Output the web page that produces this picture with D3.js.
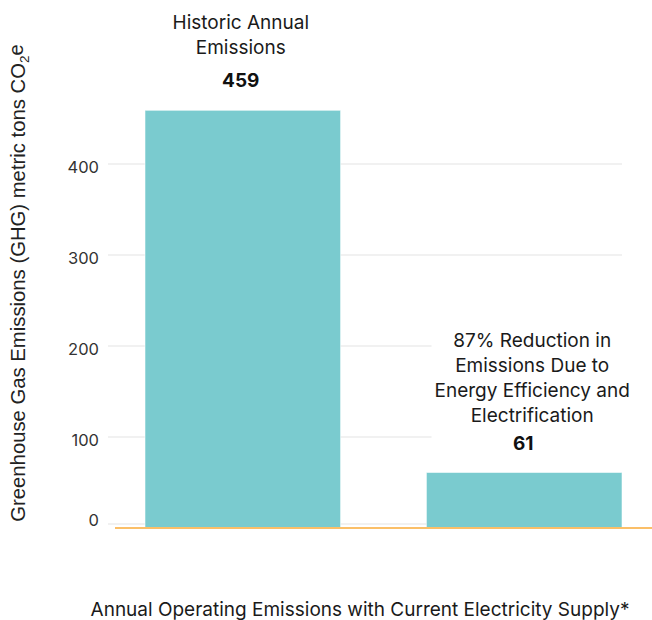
<!DOCTYPE html>
<html>
<head>
<meta charset="utf-8">
<script src="https://cdn.jsdelivr.net/npm/d3@7"></script>
<style>
  html, body { margin: 0; padding: 0; background: #fff; }
  #chart { width: 652px; height: 620px; }
  text { font-family: Inter, "Noto Sans", sans-serif; }
</style>
</head>
<body>
<div id="chart"></div>
<script>
(() => {
  // ------- data -------
  const categories = ["historic", "reduced"];
  const values = [459, 61];
  const annotations = [
    ["Historic Annual", "Emissions"],
    ["87% Reduction in", "Emissions Due to", "Energy Efficiency and", "Electrification"]
  ];
  const yTicks = [0, 100, 200, 300, 400];
  const xTitle = "Annual Operating Emissions with Current Electricity Supply*";

  const width = 652, height = 620;
  const BAR = "#7acbcf";

  const svg = d3.select("#chart").append("svg")
    .attr("width", width).attr("height", height);

  const x = d3.scaleBand()
    .domain(categories)
    .range([145, 622])
    .paddingInner(0.305)
    .paddingOuter(0);

  const y = d3.scaleLinear()
    .domain([0, 400])
    .range([528, 164]);

  // gridlines
  svg.append("g")
    .selectAll("line")
    .data(yTicks)
    .join("line")
    .attr("x1", 108).attr("x2", 622)
    .attr("y1", d => d === 0 ? y(d) - 4 : y(d))
    .attr("y2", d => d === 0 ? y(d) - 4 : y(d))
    .attr("stroke", "#ececec")
    .attr("stroke-width", 1.5);

  // y axis labels
  const yAxis = d3.axisLeft(y).tickValues(yTicks).tickSize(0).tickPadding(0);
  svg.append("g")
    .attr("transform", "translate(99,0)")
    .call(yAxis)
    .call(g => g.select(".domain").remove())
    .call(g => g.selectAll("text")
      .attr("fill", "#333")
      .style("font-family", "Inter, sans-serif")
      .style("font-size", "16.5px")
      .attr("dy", d => d === 0 ? "-0.15em" : "0.5em"));

  // annotation texts (white backing hides the gridlines behind them)
  const ann = svg.append("g");
  const lineH = 25;
  const annTop = [29, 347];
  const textShift = [-2, 8];
  const valueShift = [-2, -1];

  categories.forEach((c, i) => {
    const cx = x(c) + x.bandwidth() / 2;
    const g = ann.append("g");
    const bg = g.append("rect").attr("fill", "#fff");
    const lines = annotations[i];
    lines.forEach((t, j) => {
      g.append("text")
        .attr("x", cx + textShift[i])
        .attr("y", annTop[i] + j * lineH)
        .attr("text-anchor", "middle")
        .attr("fill", "#1a1a1a")
        .style("font-size", "19px")
        .text(t);
    });
    const last = annTop[i] + (lines.length - 1) * lineH;
    g.append("text")
      .attr("x", cx + valueShift[i])
      .attr("y", last + (i === 0 ? 33 : 28))
      .attr("text-anchor", "middle")
      .attr("fill", "#111")
      .style("font-size", "19px")
      .style("font-weight", "700")
      .text(values[i]);
    const bb = g.node().getBBox();
    bg.attr("x", bb.x - 3).attr("y", bb.y - 4)
      .attr("width", bb.width + 6).attr("height", bb.height + 8);
  });

  // bars
  svg.append("g")
    .selectAll("rect")
    .data(categories)
    .join("rect")
    .attr("x", d => x(d))
    .attr("y", (d, i) => y(values[i]))
    .attr("width", x.bandwidth())
    .attr("height", (d, i) => y(0) - y(values[i]))
    .attr("fill", BAR)
    .attr("stroke", "rgba(255,255,255,0.55)")
    .attr("stroke-width", 1);

  // baseline
  svg.append("line")
    .attr("x1", 115).attr("x2", width)
    .attr("y1", y(0)).attr("y2", y(0))
    .attr("stroke", "#fbbf68")
    .attr("stroke-width", 2);

  // y title
  const yt = svg.append("text")
    .attr("transform", `translate(25,${283}) rotate(-90)`)
    .attr("text-anchor", "middle")
    .attr("fill", "#222")
    .style("font-family", "'Liberation Sans', Arial, sans-serif")
    .style("font-size", "20.3px");
  yt.append("tspan").text("Greenhouse Gas Emissions (GHG) metric tons CO");
  yt.append("tspan").attr("dy", "0.3em").style("font-size", "13.5px").text("2");
  yt.append("tspan").attr("dy", "-0.3em").text("e");

  // x title
  svg.append("text")
    .attr("x", 360).attr("y", 616)
    .attr("text-anchor", "middle")
    .attr("fill", "#1a1a1a")
    .style("font-size", "19px")
    .text(xTitle);
})();
</script>
</body>
</html>
